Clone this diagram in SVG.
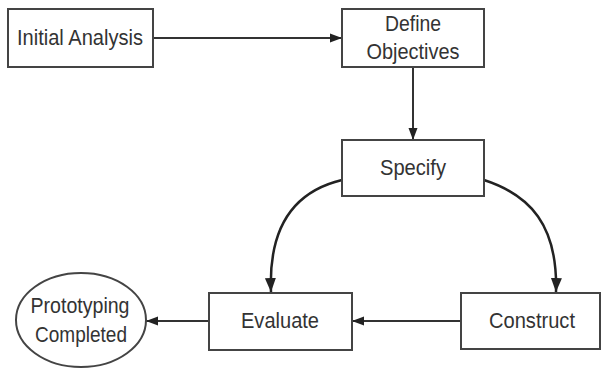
<svg xmlns="http://www.w3.org/2000/svg" width="601" height="370" viewBox="0 0 601 370">
<style>
.box{fill:#fff;stroke:#444;stroke-width:2}
.lbl{font-family:"Liberation Sans",Arial,sans-serif;font-size:22px;fill:#333;text-anchor:middle}
.edge{fill:none;stroke:#333;stroke-width:2}
.curve{fill:none;stroke:#222;stroke-width:2.5}
</style>
<defs>
<marker id="arr" markerUnits="userSpaceOnUse" markerWidth="12" markerHeight="12" viewBox="0 0 12 12" refX="12" refY="6" orient="auto">
<path d="M0,1.5 L12,6 L0,10.5 Z" fill="#222"/>
</marker>
<marker id="arrBig" markerUnits="userSpaceOnUse" markerWidth="14" markerHeight="14" viewBox="0 0 14 14" refX="14" refY="7" orient="auto">
<path d="M0,1.5 L14,7 L0,12.5 Z" fill="#222"/>
</marker>
</defs>
<rect width="601" height="370" fill="#fff"/>
<g id="connectors">
<path class="edge" d="M153,38 L342,38" marker-end="url(#arr)"/>
<path class="edge" d="M413,67 L413,140" marker-end="url(#arr)"/>
<path class="curve" d="M342,180 C300,190 268,220 271,292" marker-end="url(#arrBig)"/>
<path class="curve" d="M484,180 C530,195 558,225 556,292" marker-end="url(#arrBig)"/>
<path class="edge" d="M461,321 L352,321" marker-end="url(#arr)"/>
<path class="edge" d="M209,321 L146,321" marker-end="url(#arr)"/>
</g>
<g id="initial-analysis">
<rect class="box" x="8" y="9" width="145" height="58"/>
<text class="lbl" x="80" y="45" textLength="126" lengthAdjust="spacingAndGlyphs">Initial Analysis</text>
</g>
<g id="define-objectives">
<rect class="box" x="342" y="9" width="142" height="58"/>
<text class="lbl" x="413" y="31" textLength="56" lengthAdjust="spacingAndGlyphs">Define</text>
<text class="lbl" x="413" y="59" textLength="93" lengthAdjust="spacingAndGlyphs">Objectives</text>
</g>
<g id="specify">
<rect class="box" x="342" y="140" width="142" height="56"/>
<text class="lbl" x="413" y="175" textLength="66" lengthAdjust="spacingAndGlyphs">Specify</text>
</g>
<g id="evaluate">
<rect class="box" x="209" y="293" width="143" height="57"/>
<text class="lbl" x="280" y="328" textLength="78" lengthAdjust="spacingAndGlyphs">Evaluate</text>
</g>
<g id="construct">
<rect class="box" x="461" y="293" width="139" height="56"/>
<text class="lbl" x="532" y="328" textLength="86" lengthAdjust="spacingAndGlyphs">Construct</text>
</g>
<g id="prototyping-completed">
<ellipse class="box" cx="81" cy="320" rx="65" ry="47" stroke-width="1.5"/>
<text class="lbl" x="80" y="313" textLength="99" lengthAdjust="spacingAndGlyphs">Prototyping</text>
<text class="lbl" x="81" y="342" textLength="92" lengthAdjust="spacingAndGlyphs">Completed</text>
</g>
</svg>
